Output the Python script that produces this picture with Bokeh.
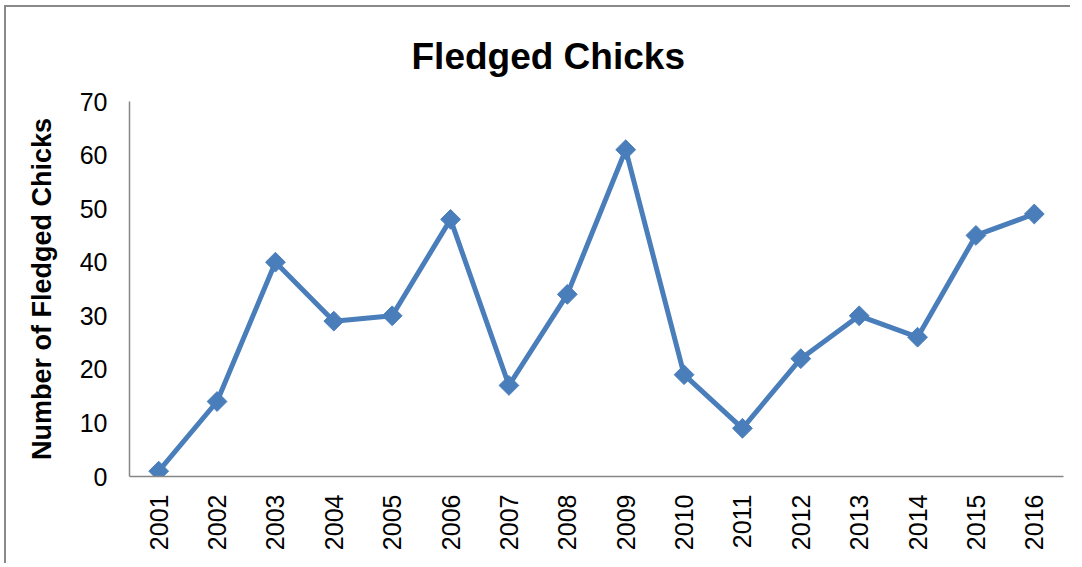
import math
from bokeh.plotting import figure
from bokeh.models import FactorRange, Range1d, FixedTicker
from bokeh.embed import file_html
from bokeh.resources import INLINE

years = ["2001", "2002", "2003", "2004", "2005", "2006", "2007", "2008",
         "2009", "2010", "2011", "2012", "2013", "2014", "2015", "2016"]
chicks = [1, 14, 40, 29, 30, 48, 17, 34, 61, 19, 9, 22, 30, 26, 45, 49]
y_ticks = [0, 10, 20, 30, 40, 50, 60, 70]

FONT = "Liberation Sans"
BLUE = "#4A7EBB"
AXIS = "#868686"

p = figure(width=1066, height=558, x_range=FactorRange(*years, range_padding=0),
           y_range=Range1d(0, 70), output_backend="svg", toolbar_location=None,
           title="Fledged Chicks")
p.min_border_left = 123
p.min_border_right = 9
p.min_border_top = 94
p.min_border_bottom = 89

p.title.text_font = FONT
p.title.text_font_size = "37px"
p.title.text_font_style = "bold"
p.title.text_color = "black"
p.title.align = "left"
p.title.offset = 282
p.title.standoff = 50

p.outline_line_color = None
p.background_fill_color = "white"
p.border_fill_color = "white"
p.xgrid.grid_line_color = None
p.ygrid.grid_line_color = None
p.styles = {"border-left": "2px solid #898989", "border-top": "2px solid #898989",
            "margin-left": "4px", "margin-top": "5px"}

for ax in (p.xaxis, p.yaxis):
    ax.axis_line_color = AXIS
    ax.axis_line_width = 1.5
    ax.major_tick_line_color = None
    ax.minor_tick_line_color = None
    ax.major_tick_out = 0
    ax.major_tick_in = 0
    ax.major_label_text_font = FONT
    ax.major_label_text_font_size = "25px"
    ax.major_label_text_color = "black"

p.yaxis.ticker = FixedTicker(ticks=y_ticks)
p.yaxis.major_label_standoff = 22
p.yaxis.axis_label = "Number of Fledged Chicks"
p.yaxis.axis_label_text_font = FONT
p.yaxis.axis_label_text_font_size = "27px"
p.yaxis.axis_label_text_font_style = "bold"
p.yaxis.axis_label_text_color = "black"
p.yaxis.axis_label_standoff = 20

p.xaxis.major_label_orientation = math.pi / 2
p.xaxis.major_label_standoff = 18

p.line(years, chicks, line_color=BLUE, line_width=5)
p.scatter(years, chicks, marker="square", size=14, angle=math.pi / 4,
          fill_color=BLUE, line_color=BLUE)

open("out.html", "w").write(file_html(p, INLINE))
